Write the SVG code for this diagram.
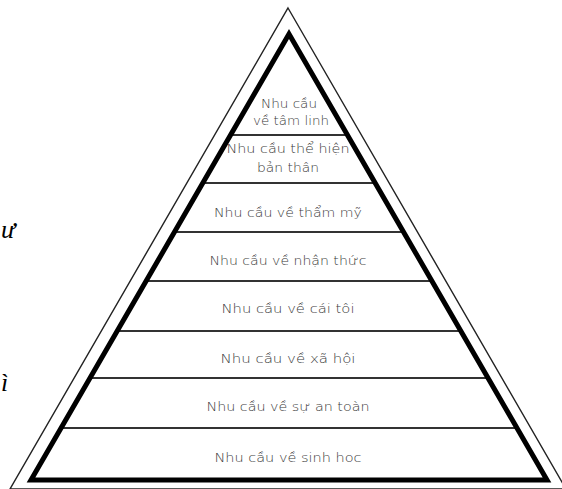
<svg xmlns="http://www.w3.org/2000/svg" width="562" height="489" viewBox="0 0 562 489">
<style>
.lbl{font-family:"DejaVu Sans","Liberation Sans",sans-serif;font-size:13px;fill:#3a3a3a;text-anchor:middle;font-weight:300}
.frag{font-family:"Liberation Serif",serif;font-style:italic;font-size:26px;fill:#000}
.div{stroke:#333;stroke-width:2;fill:none}
</style>
<rect width="562" height="489" fill="#fff"/>
<text class="frag" x="1" y="238">ư</text>
<text class="frag" x="1" y="391">ì</text>
<g id="frame">
<polygon points="288,8 566,489 10,489" fill="none" stroke="#222" stroke-width="1.4"/>
</g>
<g id="dividers">
<line class="div" x1="230.6" y1="135" x2="347.4" y2="135"/>
<line class="div" x1="202.9" y1="183" x2="375.1" y2="183"/>
<line class="div" x1="174.6" y1="232" x2="403.4" y2="232"/>
<line class="div" x1="146.2" y1="281" x2="431.8" y2="281"/>
<line class="div" x1="117.3" y1="331" x2="460.7" y2="331"/>
<line class="div" x1="90.2" y1="378" x2="487.8" y2="378"/>
<line class="div" x1="61.3" y1="428" x2="516.7" y2="428"/>
</g>
<g id="pyramid">
<polygon points="289,34 547,480 31,480" fill="none" stroke="#000" stroke-width="5" stroke-linejoin="miter"/>
</g>
<g id="tam-linh">
<text class="lbl" x="289" y="108" textLength="56" lengthAdjust="spacingAndGlyphs">Nhu cầu</text>
<text class="lbl" x="291" y="125" textLength="76" lengthAdjust="spacingAndGlyphs">về tâm linh</text>
</g>
<g id="the-hien">
<text class="lbl" x="288" y="153" textLength="123" lengthAdjust="spacingAndGlyphs">Nhu cầu thể hiện</text>
<text class="lbl" x="288" y="172" textLength="62" lengthAdjust="spacingAndGlyphs">bản thân</text>
</g>
<g id="tham-my">
<text class="lbl" x="288" y="217" textLength="148" lengthAdjust="spacingAndGlyphs">Nhu cầu về thẩm mỹ</text>
</g>
<g id="nhan-thuc">
<text class="lbl" x="288" y="265" textLength="157" lengthAdjust="spacingAndGlyphs">Nhu cầu về nhận thức</text>
</g>
<g id="cai-toi">
<text class="lbl" x="288" y="313" textLength="133" lengthAdjust="spacingAndGlyphs">Nhu cầu về cái tôi</text>
</g>
<g id="xa-hoi">
<text class="lbl" x="288" y="363" textLength="135" lengthAdjust="spacingAndGlyphs">Nhu cầu về xã hội</text>
</g>
<g id="an-toan">
<text class="lbl" x="288" y="411" textLength="163" lengthAdjust="spacingAndGlyphs">Nhu cầu về sự an toàn</text>
</g>
<g id="sinh-hoc">
<text class="lbl" x="288" y="462" textLength="147" lengthAdjust="spacingAndGlyphs">Nhu cầu về sinh hoc</text>
</g>
</svg>
